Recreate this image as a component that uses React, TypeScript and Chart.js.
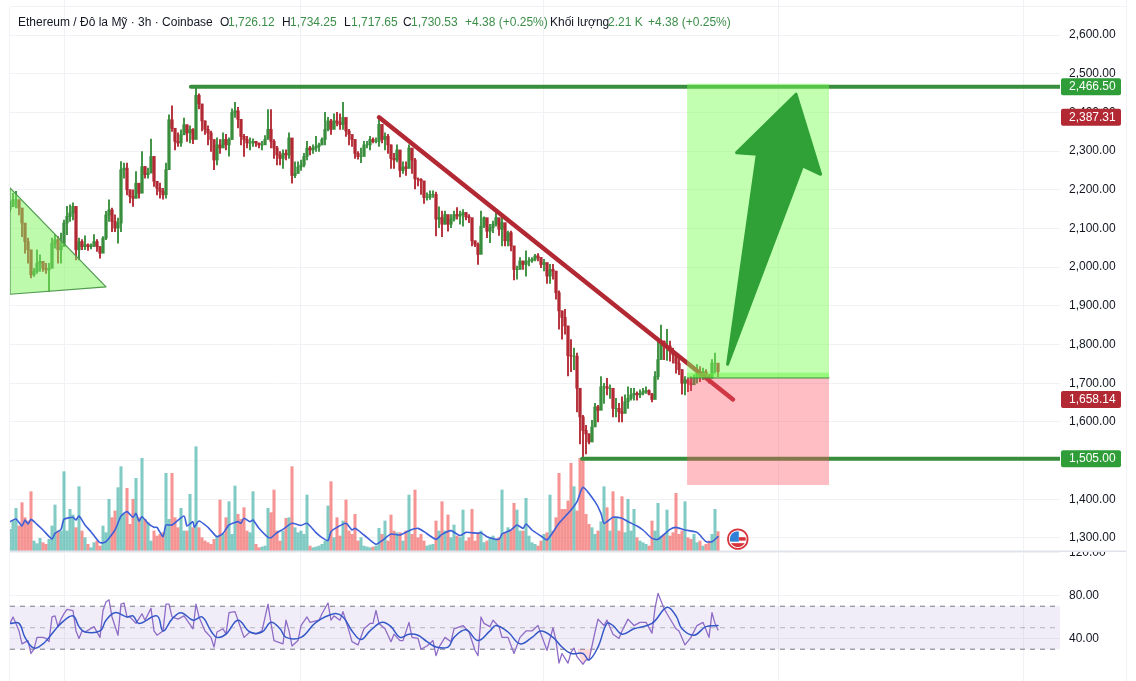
import React, { useEffect, useRef } from "react";
import { Chart, registerables } from "chart.js";

Chart.register(...registerables);

const highs = [
2170,2191,2196,2174,2140,2079,2075,2010,1997,2045,2032,2015,2010,2010,2075,2084,2079,2088,2122,2157,2161,2166,2157,2075,2071,2081,2060,2060,2084,2071,
2053,2079,2144,2174,2153,2135,2127,2273,2269,2269,2200,2200,2247,2213,2299,2260,2256,2331,2286,2222,2217,2204,2269,2394,2417,2355,2347,2355,2385,2368,
2365,2358,2467,2448,2418,2378,2365,2352,2303,2334,2330,2347,2343,2334,2409,2426,2413,2365,2343,2338,2334,2332,2325,2321,2325,2340,2407,2407,2330,2312,
2299,2303,2303,2347,2330,2272,2272,2277,2294,2325,2312,2316,2338,2321,2334,2400,2387,2382,2396,2400,2396,2426,2374,2356,2338,2330,2299,2308,2325,2325,
2338,2334,2334,2387,2347,2347,2343,2316,2294,2316,2281,2272,2272,2316,2294,2281,2231,2229,2188,2192,2197,2197,2194,2156,2145,2145,2132,2136,2145,2154,
2145,2149,2141,2136,2124,2068,2063,2145,2130,2125,2111,2119,2141,2124,2136,2082,2093,2093,2042,2003,2025,2016,2042,2025,2025,2033,2035,2025,2020,1994,
2007,2007,1986,1939,1887,1891,1848,1813,1791,1778,1687,1617,1591,1569,1604,1648,1643,1717,1700,1713,1696,1683,1661,1648,1665,1670,1691,1687,1687,1678,
1683,1687,1691,1683,1674,1730,1813,1850,1809,1839,1809,1791,1778,1765,1735,1717,1713,1717,1722,1748,1743,1739,1735,1722,1761,1778,1748];
const lows = [
2144,2157,2153,2135,2079,2036,2010,1972,1976,1984,1989,1989,1984,1937,2002,2049,2010,2010,2062,2084,2118,2122,2019,2019,2045,2045,2043,2047,2053,2041,
2023,2049,2071,2118,2092,2092,2062,2092,2230,2187,2166,2157,2178,2178,2209,2230,2230,2247,2209,2187,2178,2176,2178,2252,2351,2303,2312,2312,2347,2325,
2321,2319,2378,2409,2352,2343,2316,2299,2252,2264,2294,2312,2303,2287,2330,2387,2360,2316,2286,2308,2303,2312,2312,2308,2303,2325,2334,2308,2281,2264,
2264,2255,2277,2281,2217,2231,2250,2250,2259,2277,2290,2294,2299,2299,2316,2316,2352,2343,2369,2365,2356,2356,2338,2316,2312,2281,2279,2270,2303,2308,
2303,2321,2321,2312,2321,2303,2294,2255,2255,2272,2233,2242,2237,2259,2242,2202,2210,2188,2165,2173,2175,2180,2081,2102,2079,2111,2093,2102,2119,2124,
2111,2106,2122,2115,2055,2053,2007,2063,2102,2076,2063,2089,2106,2082,2055,2055,2055,2042,1967,1969,1999,1994,1977,2003,2012,2016,2016,1999,1990,1958,
1958,1969,1917,1840,1814,1827,1719,1730,1735,1626,1543,1504,1517,1543,1561,1604,1600,1643,1648,1670,1661,1613,1613,1600,1600,1630,1635,1656,1656,1656,
1663,1670,1674,1670,1652,1663,1710,1778,1761,1759,1757,1752,1726,1722,1672,1670,1678,1681,1696,1700,1704,1709,1709,1700,1713,1726,1716];
const closes = [
2157,2174,2174,2153,2114,2066,2045,1980,1989,2010,2015,1997,1993,1997,2062,2071,2045,2053,2114,2131,2140,2157,2045,2066,2053,2058,2053,2055,2066,2053,
2036,2075,2135,2148,2118,2101,2114,2252,2256,2200,2183,2178,2217,2191,2260,2239,2243,2286,2222,2204,2196,2187,2252,2381,2359,2325,2321,2342,2368,2347,
2356,2330,2444,2422,2378,2356,2347,2330,2277,2316,2308,2330,2316,2330,2400,2404,2382,2338,2330,2321,2321,2325,2321,2316,2316,2330,2356,2325,2308,2290,
2281,2294,2290,2334,2237,2242,2259,2264,2286,2308,2303,2308,2312,2316,2330,2356,2378,2356,2378,2374,2369,2387,2352,2343,2330,2294,2286,2286,2316,2316,
2330,2325,2325,2369,2330,2338,2316,2281,2277,2303,2250,2259,2255,2308,2277,2228,2227,2223,2180,2180,2188,2188,2124,2128,2111,2136,2111,2124,2136,2132,
2136,2141,2130,2128,2068,2059,2033,2106,2128,2093,2102,2111,2128,2098,2115,2068,2089,2055,1994,1994,2016,2007,2016,2016,2020,2029,2025,2007,2012,1977,
1994,1990,1934,1887,1870,1848,1771,1770,1770,1687,1613,1578,1569,1548,1587,1639,1630,1691,1691,1687,1687,1635,1635,1626,1622,1652,1661,1670,1674,1670,
1674,1678,1681,1672,1658,1717,1761,1809,1796,1796,1783,1774,1752,1735,1700,1709,1700,1696,1713,1726,1722,1730,1722,1713,1752,1752,1730];
const firstOpen = 2150;

// volume, in hidden-axis units; the last bar is the 2.21 K of the header
const volumes = [
65,90,128,75,145,100,90,178,30,22,38,25,20,35,75,138,60,60,238,60,125,108,70,193,60,40,20,10,25,30,
15,75,55,155,100,120,190,253,110,188,80,155,218,100,278,95,85,30,60,45,50,55,233,95,233,100,70,128,60,60,
170,70,313,70,40,30,25,20,35,45,153,50,100,148,50,195,110,95,130,60,55,178,20,10,12,15,128,115,183,60,
30,60,98,100,253,70,55,60,50,168,15,10,12,15,20,30,135,208,40,100,45,90,153,60,50,110,30,40,15,12,
10,12,15,68,50,90,30,108,60,55,55,30,60,168,50,183,40,50,30,15,18,20,90,60,148,60,108,40,78,45,
40,123,30,40,125,30,55,60,25,30,40,45,35,40,183,55,70,60,143,123,60,60,158,45,25,20,15,30,50,55,
168,60,100,233,125,125,150,263,193,120,278,280,110,80,70,50,60,88,193,130,60,178,100,60,163,55,155,60,125,40,
30,25,20,15,90,60,143,45,50,123,45,55,173,50,60,148,40,35,50,25,30,15,20,30,50,125,58];

// volume moving average: bar index and value
const volMaBars = [0,2,4,5,6,7,9,11,14,15,17,18,21,22,23,25,27,30,32,35,37,39,41,42,43,44,46,48,49,51,52,54,58,59,61,61.4,63,66,67,69,71,73,76,77,78,80,81,83,86,87,89,91,94,97,99,102,104,106,107,109,112,114,115,118,122,124,127,130,133,136,138,142,144,147,150,152,156,157,159,163,164,167,169,171,172,174,177,179,183,187,189,191,195,197,198,201,204,206,209,211,214,216,220,222,225,229,232,234,236];
const volMaValues = [88,96,75,93,81,95,80,63,36,53,65,95,101,93,105,78,58,25,28,63,105,118,101,113,90,103,83,71,71,43,78,78,105,75,88,71,90,71,61,43,53,78,88,83,98,88,93,68,41,40,55,65,83,77,83,55,40,31,58,71,83,63,68,48,20,31,51,48,61,68,58,35,50,61,46,56,53,55,43,35,51,63,78,68,81,63,45,33,83,123,148,191,148,113,83,101,98,88,75,63,38,35,65,71,63,56,28,28,43];

// RSI and its moving average
const rsiBars = [0,1,2,3,4,6,7,8,9,11,12,13,14,15,16,17,18,19,21,22,23,24,25,28,30,31,32,33,34,36,37,38,39,40,42,44,45,47,48,49,51,52,53,54,56,58,59,61,62,63,65,67,68,69,71,72,73,75,77,78,80,82,84,86,87,88,91,92,93,94,96,97,99,100,103,104,106,107,108,110,111,113,114,116,118,120,121,122,123,125,127,128,130,131,133,134,136,137,139,141,142,143,145,147,148,151,153,155,156,157,158,160,161,163,164,166,168,170,172,174,176,177,179,181,182,183,184,186,187,188,189,191,192,193,195,196,198,199,201,203,204,206,208,210,212,214,215,216,218,219,222,223,225,227,229,231,233,234,235,236];
const rsiValues = [54,60,54,47,35,38,26,30,41,41,40,37,60,61,51,58,63,67,66,47,40,47,46,51,41,66,74,76,60,43,72,73,60,60,54,63,57,68,47,43,47,72,72,60,58,61,57,49,72,60,47,41,32,46,49,44,64,65,49,41,46,44,47,72,54,38,35,57,47,33,38,52,60,55,57,63,73,57,61,57,65,47,37,34,49,54,54,66,54,49,37,44,38,38,55,41,40,30,33,38,24,32,41,37,49,52,46,29,24,60,54,51,57,51,41,41,26,41,47,47,52,44,29,50,38,17,26,17,27,31,23,16,20,20,46,58,52,57,44,40,47,58,52,55,55,45,68,82,68,63,49,47,34,41,52,55,41,64,54,48];
const rsiMaBars = [0,3,5,8,11,13,17,21,23,25,30,32,35,39,41,43,49,51,54,57,61,64,67,69,72,76,80,84,87,90,92,97,102,108,111,114,117,120,124,127,130,133,136,139,142,146,148,152,156,160,162,166,170,174,177,181,184,187,191,193,196,199,201,204,208,214,219,222,224,228,232,236];
const rsiMaValues = [54,54,41,31,35,41,54,61,51,46,47,57,64,60,61,54,61,47,58,64,57,60,47,41,44,57,46,46,55,49,41,41,55,63,60,47,39,47,55,51,41,44,43,37,32,32,41,48,38,47,52,46,35,41,47,41,32,26,26,20,32,54,52,44,49,54,69,61,49,43,51,52];
const rsiLevels = [70, 50, 30];
const oversoldBars = [189, 191, 192, 193, 194];
const oversoldValues = [30, 16, 20, 20, 30];

// drawing tools, in bar index and price
const targetPrice = 2466.5;
const stopPrice = 1505;
const targetStartBar = 60.3;
const stopStartBar = 190.7;
const trendBars = [123, 241];
const trendPrices = [2387.31, 1658.14];
const boxBars = [225.7, 273];
const boxTop = 2474;
const boxEntry = 1713.6;
const boxEntryBand = 1727;
const boxBottom = 1437;
const triangleBars = [0, 32, 0, 0];
const trianglePrices = [2205, 1949, 1930, 2205];
const arrowBars = [239.2, 249.1, 242.2, 262, 270.2, 264.2, 239.2];
const arrowPrices = [1749, 2292, 2296, 2447, 2240, 2262, 1749];

// axes and labels
const priceTicks = [1300, 1400, 1500, 1600, 1700, 1800, 1900, 2000, 2100, 2200, 2300, 2400, 2500, 2600];
const rsiTicks = [40, 80, 120];
const timeGridBars = [18, 96.7, 177.7, 256.3, 337.7];
const priceBadges = [
  { value: 2466.5, color: "#2f9e38" },
  { value: 2387.31, color: "#b22833" },
  { value: 1658.14, color: "#b22833" },
  { value: 1505.0, color: "#2f9e38" },
];
const flagBar = 242.6;
const flagPrice = 1297;
const headerParts: [string, number, string][] = [
  ["Ethereum / Đô la Mỹ · 3h · Coinbase", 18, "#131722"],
  ["O", 220, "#131722"], ["1,726.12", 228, "#3b8f48"],
  ["H", 282, "#131722"], ["1,734.25", 290, "#3b8f48"],
  ["L", 344, "#131722"], ["1,717.65", 351, "#3b8f48"],
  ["C", 403, "#131722"], ["1,730.53", 411, "#3b8f48"],
  ["+4.38 (+0.25%)", 465, "#3b8f48"],
  ["Khối lượng", 550, "#131722"], ["2.21 K", 608, "#3b8f48"],
  ["+4.38 (+0.25%)", 648, "#3b8f48"],
];

const UP = "#388e3c";
const DOWN = "#b22833";
const GRID = "#f1f2f5";
const FONT = '"Liberation Sans", Arial, sans-serif';

const zip = (xs: number[], ys: number[]) => xs.map((x, i) => ({ x, y: ys[i] }));
const opens = closes.map((_, i) => (i === 0 ? firstOpen : closes[i - 1]));
const isUp = closes.map((c, i) => c >= opens[i]);
const candleColors = isUp.map((u) => (u ? UP : DOWN));
const volColors = isUp.map((u) => (u ? "rgba(38,166,154,.58)" : "rgba(239,83,80,.62)"));

const line = (data: { x: number; y: number }[], color: string, width: number, order: number, yAxisID = "y", extra: object = {}) => ({
  type: "line" as const, data, borderColor: color, borderWidth: width, order, yAxisID,
  pointRadius: 0, tension: 0, fill: false, borderCapStyle: "round", borderJoinStyle: "round", ...extra,
});
const shape = (data: { x: number; y: number }[], fillColor: string, order: number, yAxisID = "y", extra: object = {}) =>
  line(data, "rgba(0,0,0,0)", 0, order, yAxisID, { fill: "shape", backgroundColor: fillColor, ...extra });
const box = (x0: number, x1: number, y0: number, y1: number) => [
  { x: x0, y: y0 }, { x: x1, y: y0 }, { x: x1, y: y1 }, { x: x0, y: y1 }, { x: x0, y: y0 },
];

const overlay = {
  id: "overlay",
  afterDraw(chart: any) {
    const { ctx, scales } = chart;
    const py = scales.y;
    ctx.save();
    // pane frame
    ctx.fillStyle = "#ffffff";
    ctx.fillRect(1061, 544, 65, 7);
    ctx.fillStyle = GRID;
    ctx.fillRect(10, 6, 1116, 1);
    ctx.fillRect(9, 7, 1, 674);
    ctx.fillRect(1126, 0, 1, 681);
    ctx.fillStyle = "#e0e3eb";
    ctx.fillRect(10, 550.5, 1116, 1.5);
    // price badges
    ctx.font = "12px " + FONT;
    ctx.textBaseline = "middle";
    ctx.textAlign = "left";
    for (const b of priceBadges) {
      const y = py.getPixelForValue(b.value);
      ctx.fillStyle = b.color;
      ctx.beginPath();
      ctx.roundRect(1061, y - 8.5, 60, 17, 2);
      ctx.fill();
      ctx.fillStyle = "#ffffff";
      ctx.fillText(b.value.toLocaleString("en-US", { minimumFractionDigits: 2 }), 1069, y + 0.5);
    }
    // event flag
    const fx = scales.x.getPixelForValue(flagBar);
    const fy = py.getPixelForValue(flagPrice);
    ctx.beginPath();
    ctx.arc(fx, fy, 9.8, 0, Math.PI * 2);
    ctx.fillStyle = "#ffffff";
    ctx.fill();
    ctx.lineWidth = 1.8;
    ctx.strokeStyle = "#d8343c";
    ctx.stroke();
    ctx.save();
    ctx.beginPath();
    ctx.arc(fx, fy, 8, 0, Math.PI * 2);
    ctx.clip();
    ctx.fillStyle = "#d8343c";
    ctx.fillRect(fx + 1, fy - 2, 8, 3.5);
    ctx.fillRect(fx - 8, fy + 4, 16, 4);
    ctx.fillStyle = "#2f7fd6";
    ctx.fillRect(fx - 8, fy - 8, 9, 10.5);
    ctx.restore();
    ctx.restore();
  },
};

const flatten = (width: number) => (s: any) => {
  if (width >= 0) s.width = width;
  s.paddingTop = 0; s.paddingBottom = 0; s.paddingLeft = 0; s.paddingRight = 0;
};

export default function App() {
  const ref = useRef<HTMLCanvasElement>(null);
  useEffect(() => {
    document.body.style.margin = "0";
    document.body.style.background = "#ffffff";
    const chart = new Chart(ref.current!, {
      type: "line",
      plugins: [overlay],
      data: {
        datasets: [
          shape(box(0, 350, 70, 30), "rgba(126,87,194,.11)", 30, "yRsi"),
          { type: "bar", yAxisID: "yVol", order: 20, grouped: false, barThickness: 2.4, borderWidth: 0,
            data: volumes.map((v, i) => ({ x: i, y: v })), backgroundColor: volColors },
          line(zip(volMaBars, volMaValues), "#3d5fd8", 1.6, 19, "yVol", { tension: 0.2 }),
          { type: "bar", yAxisID: "y", order: 14, grouped: false, barThickness: 1.2, borderWidth: 0,
            data: lows.map((l, i) => ({ x: i, y: [l, highs[i]] })), backgroundColor: candleColors },
          { type: "bar", yAxisID: "y", order: 13, grouped: false, barThickness: 2.6, borderWidth: 0,
            data: opens.map((o, i) => ({ x: i, y: [o, closes[i]] })), backgroundColor: candleColors },
          line([{ x: targetStartBar, y: targetPrice }, { x: 350, y: targetPrice }], UP, 4, 10),
          line([{ x: stopStartBar, y: stopPrice }, { x: 350, y: stopPrice }], UP, 4, 10),
          line(zip(trendBars, trendPrices), DOWN, 4.5, 9),
          shape(box(boxBars[0], boxBars[1], boxTop, boxEntry), "rgba(126,255,90,.47)", 7),
          shape(box(boxBars[0], boxBars[1], boxEntryBand, boxEntry), "rgba(100,245,60,.45)", 6),
          shape(box(boxBars[0], boxBars[1], boxEntry, boxBottom), "rgba(255,82,100,.38)", 7),
          line([{ x: boxBars[0], y: boxEntry }, { x: boxBars[1], y: boxEntry }], "#3f8f3f", 1, 5),
          line(zip(triangleBars, trianglePrices), "#4f9a4f", 1.2, 5, "y", { fill: "shape", backgroundColor: "rgba(126,245,90,.5)" }),
          line(zip(arrowBars, arrowPrices), "#2fa136", 3, 3, "y", { fill: "shape", backgroundColor: "#2fa136" }),
          line([{ x: 0, y: rsiLevels[0] }, { x: 350, y: rsiLevels[0] }], "#787b86", 1, 25, "yRsi", { borderDash: [5, 5], borderCapStyle: "butt" }),
          line([{ x: 0, y: rsiLevels[1] }, { x: 350, y: rsiLevels[1] }], "rgba(120,123,134,.5)", 1, 25, "yRsi", { borderDash: [5, 5], borderCapStyle: "butt" }),
          line([{ x: 0, y: rsiLevels[2] }, { x: 350, y: rsiLevels[2] }], "#787b86", 1, 25, "yRsi", { borderDash: [5, 5], borderCapStyle: "butt" }),
          shape(zip(oversoldBars, oversoldValues), "rgba(242,54,69,.2)", 24, "yRsi"),
          line(zip(rsiBars, rsiValues), "#8e6cc6", 1.3, 22, "yRsi"),
          line(zip(rsiMaBars, rsiMaValues), "#3558c8", 1.5, 21, "yRsi", { tension: 0.4 }),
        ] as any,
      },
      options: {
        responsive: false,
        animation: false,
        events: [],
        layout: { padding: { left: 10, right: 0, top: 0, bottom: 0 } },
        plugins: { legend: { display: false }, tooltip: { enabled: false }, title: { display: false } },
        scales: {
          x: {
            type: "linear", min: 0, max: 350, offset: false,
            grid: { color: GRID, offset: false, drawTicks: false },
            border: { display: false },
            ticks: { display: false },
            afterBuildTicks: (s: any) => { s.ticks = timeGridBars.map((value) => ({ value })); },
            afterFit: (s: any) => { s.height = 0; flatten(-1)(s); },
          },
          y: {
            type: "linear", position: "right", stack: "panes", stackWeight: 551,
            min: 1266.4, max: 2690.5,
            grid: { color: GRID, drawTicks: false },
            border: { display: false },
            ticks: {
              autoSkip: false, padding: 9, color: "#131722", font: { family: FONT, size: 12 },
              callback: (v: any) => Number(v).toLocaleString("en-US", { minimumFractionDigits: 2 }),
            },
            afterBuildTicks: (s: any) => { s.ticks = priceTicks.map((value) => ({ value })); },
            afterFit: flatten(76),
          },
          yRsi: {
            type: "linear", position: "right", stack: "panes", stackWeight: 130,
            min: 0.4, max: 121.4,
            grid: { color: GRID, drawTicks: false },
            border: { display: false },
            ticks: {
              autoSkip: false, padding: 9, color: "#131722", font: { family: FONT, size: 12 },
              callback: (v: any) => Number(v).toFixed(2),
            },
            afterBuildTicks: (s: any) => { s.ticks = rsiTicks.map((value) => ({ value })); },
            afterFit: flatten(76),
          },
          yVol: {
            type: "linear", display: false, position: "left",
            min: -390, max: 1653,
          },
        },
      } as any,
    });
    return () => chart.destroy();
  }, []);
  return (
    <div style={{ position: "fixed", left: 0, top: 0, width: 1136, height: 681, background: "#fff", overflow: "hidden" }}>
      <canvas ref={ref} width={1136} height={681} style={{ position: "absolute", left: 0, top: 0, display: "block" }} />
      {headerParts.map(([text, left, color], i) => (
        <span key={i} style={{ position: "absolute", left, top: 15, font: "12px " + FONT, color, whiteSpace: "nowrap", lineHeight: "14px" }}>{text}</span>
      ))}
    </div>
  );
}
